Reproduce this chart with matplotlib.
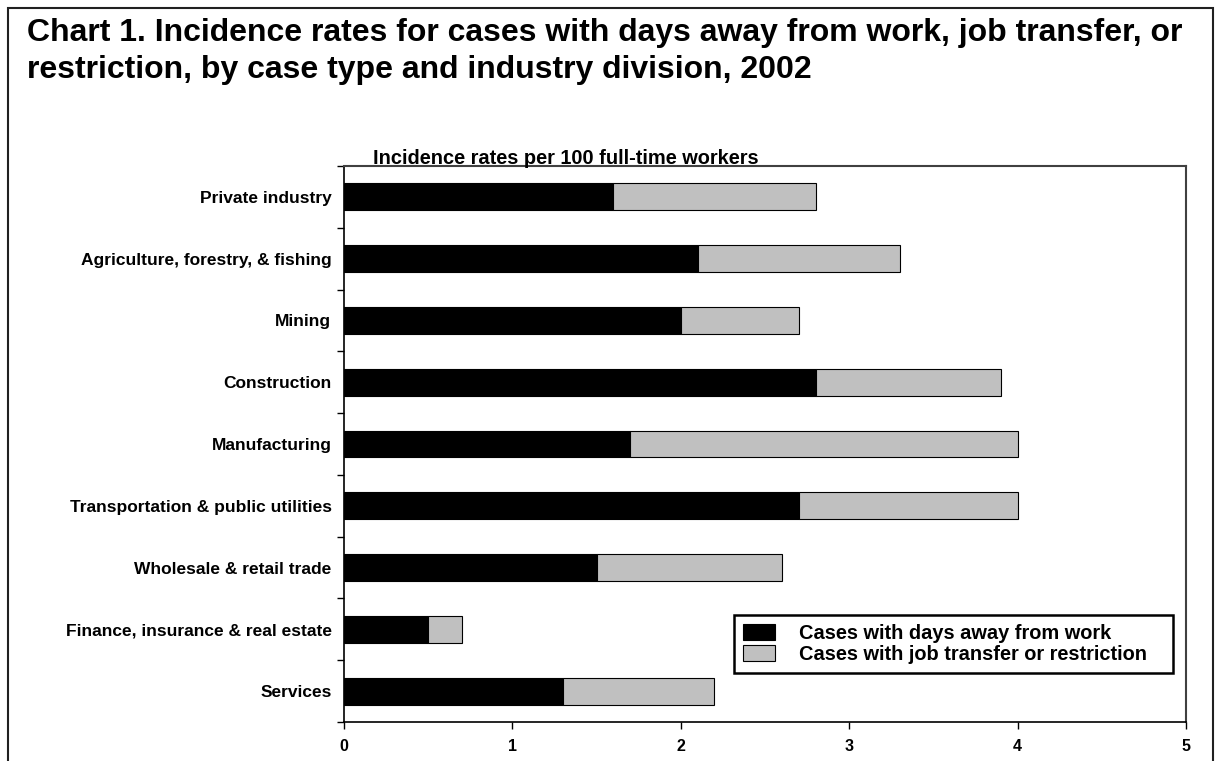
"""Chart 1: incidence rates by case type and industry division, 2002."""

import matplotlib

matplotlib.use("Agg")
import matplotlib.pyplot as plt
from matplotlib.patches import Rectangle
import numpy as np

plt.rcParams["font.family"] = ["Liberation Sans", "DejaVu Sans"]
plt.rcParams["font.weight"] = "bold"

# --- data ---------------------------------------------------------------
industries = [
    "Private industry",
    "Agriculture, forestry, & fishing",
    "Mining",
    "Construction",
    "Manufacturing",
    "Transportation & public utilities",
    "Wholesale & retail trade",
    "Finance, insurance & real estate",
    "Services",
]
days_away = [1.6, 2.1, 2.0, 2.8, 1.7, 2.7, 1.5, 0.5, 1.3]
transfer_restriction = [1.2, 1.2, 0.7, 1.1, 2.3, 1.3, 1.1, 0.2, 0.9]
x_ticks = [0, 1, 2, 3, 4, 5]
# ------------------------------------------------------------------------

W, H = 1218, 761
fig = plt.figure(figsize=(W / 100, H / 100), dpi=100)
ax = fig.add_axes([344 / W, 1 - 722 / H, (1186 - 344) / W, (722 - 166) / H])

y = np.arange(len(industries))
bar_h = 0.435
ax.barh(y, days_away, height=bar_h, color="black", edgecolor="black",
        linewidth=0.8, label="Cases with days away from work")
ax.barh(y, transfer_restriction, left=days_away, height=bar_h, color="#c0c0c0",
        edgecolor="black", linewidth=0.8,
        label="Cases with job transfer or restriction")

ax.set_xlim(0, 5)
ax.set_ylim(len(industries) - 0.5, -0.5)
ax.set_xticks(x_ticks)
ax.set_xticklabels([str(v) for v in x_ticks], fontsize=11.5, fontweight="bold")
ax.tick_params(axis="x", direction="out", length=5, width=1, pad=7)

ax.set_yticks(y)
ax.set_yticklabels(industries, fontsize=12.5, fontweight="bold")
ax.set_yticks(np.arange(len(industries) + 1) - 0.5, minor=True)
ax.tick_params(axis="y", which="major", length=0, pad=9)
ax.tick_params(axis="y", which="minor", direction="out", length=5, width=1)

for side in ("left", "bottom"):
    ax.spines[side].set_color("black")
    ax.spines[side].set_linewidth(1.2)
for side in ("top", "right"):
    ax.spines[side].set_color("#404040")
    ax.spines[side].set_linewidth(1.5)

# legend box spans x 734-1173, y 610-678 px in the reference
leg = ax.legend(loc="center",
                bbox_to_anchor=(734 / W, 1 - 678 / H, (1173 - 734) / W, (678 - 610) / H),
                bbox_transform=fig.transFigure, mode="expand", borderaxespad=0,
                fancybox=False, framealpha=1, edgecolor="black",
                prop={"size": 14.4, "weight": "bold"}, handlelength=1.6,
                handleheight=0.8, handletextpad=1.2, labelspacing=0.1,
                borderpad=0.45)
leg.get_frame().set_linewidth(1.8)

fig.text(27 / W, 1 - 18 / H,
         "Chart 1. Incidence rates for cases with days away from work, job transfer, or\n"
         "restriction, by case type and industry division, 2002",
         ha="left", va="top", fontsize=23, fontweight="bold", linespacing=1.32)
fig.text(373 / W, 1 - 164 / H, "Incidence rates per 100 full-time workers",
         ha="left", va="baseline", fontsize=14.4, fontweight="bold")

fig.patches.append(Rectangle((8 / W, -0.1), (1213 - 8) / W, 1.1 - 8 / H,
                             transform=fig.transFigure, fill=False,
                             edgecolor="#202020", linewidth=1.5))

fig.savefig("out.png", dpi=100)
